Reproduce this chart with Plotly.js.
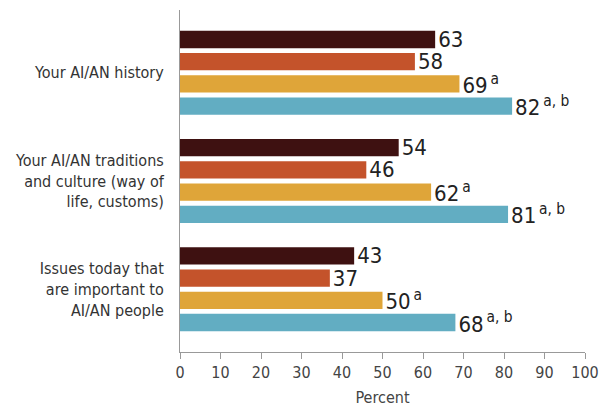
<!DOCTYPE html>
<html>
<head>
<meta charset="utf-8">
<script src="https://cdn.plot.ly/plotly-3.0.1.min.js"></script>
<style>html,body{margin:0;padding:0;background:#fff;}#chart{width:600px;height:410px;}</style>
</head>
<body>
<div id="chart"></div>
<script>
const categories = [
  "Your AI/AN history",
  "Your AI/AN traditions<br>and culture (way of<br>life, customs)",
  "Issues today that<br>are important to<br>AI/AN people"
];
const series1 = [63, 54, 43];
const series2 = [58, 46, 37];
const series3 = [69, 62, 50];
const series4 = [82, 81, 68];
const notes1 = ["", "", ""];
const notes2 = ["", "", ""];
const notes3 = ["a", "a", "a"];
const notes4 = ["a, b", "a, b", "a, b"];
const colors = ["#3e1111", "#c4532b", "#dfa539", "#62adc2"];

const FONT = "'Liberation Sans Narrow', 'DejaVu Sans Condensed', sans-serif";

function lbl(vals, notes) {
  return vals.map((v, i) => notes[i] ? v + "<span style='font-size:10px'> </span><sup style='font-size:11px'>" + notes[i] + "</sup>" : String(v));
}

const allSeries = [series1, series2, series3, series4];
const allNotes = [notes1, notes2, notes3, notes4];
const data = allSeries.map((s, k) => ({
  type: "bar",
  orientation: "h",
  x: s,
  y: categories,
  marker: {color: colors[k], line: {width: 0}},
  text: lbl(s, allNotes[k]),
  textposition: "outside",
  constraintext: "none",
  cliponaxis: false,
  textfont: {family: FONT, size: 22, color: "#222"},
  hoverinfo: "skip"
}));

const layout = {
  width: 600, height: 410,
  margin: {l: 180, r: 15, t: 10, b: 58},
  paper_bgcolor: "#fff", plot_bgcolor: "#fff",
  barmode: "group",
  bargap: 0.18,
  bargroupgap: 0.22,
  showlegend: false,
  font: {family: FONT, color: "#333"},
  xaxis: {
    range: [0, 100], dtick: 10, showgrid: false, zeroline: false,
    automargin: false, ticklabeloverflow: "allow",
    showline: true, linecolor: "#999", linewidth: 1,
    ticks: "outside", ticklen: 6, tickcolor: "#999",
    tickfont: {family: FONT, size: 16, color: "#444"},
    title: {text: "Percent", font: {family: FONT, size: 16, color: "#444"}, standoff: 10}
  },
  yaxis: {
    type: "category",
    range: [2.58, -0.58],
    automargin: false,
    showgrid: false, zeroline: false,
    showline: true, linecolor: "#999", linewidth: 1,
    ticks: "", ticklabelstandoff: 12,
    tickfont: {family: FONT, size: 16, color: "#333"}
  }
};

Plotly.newPlot("chart", data, layout, {staticPlot: true, displayModeBar: false});
</script>
</body>
</html>
